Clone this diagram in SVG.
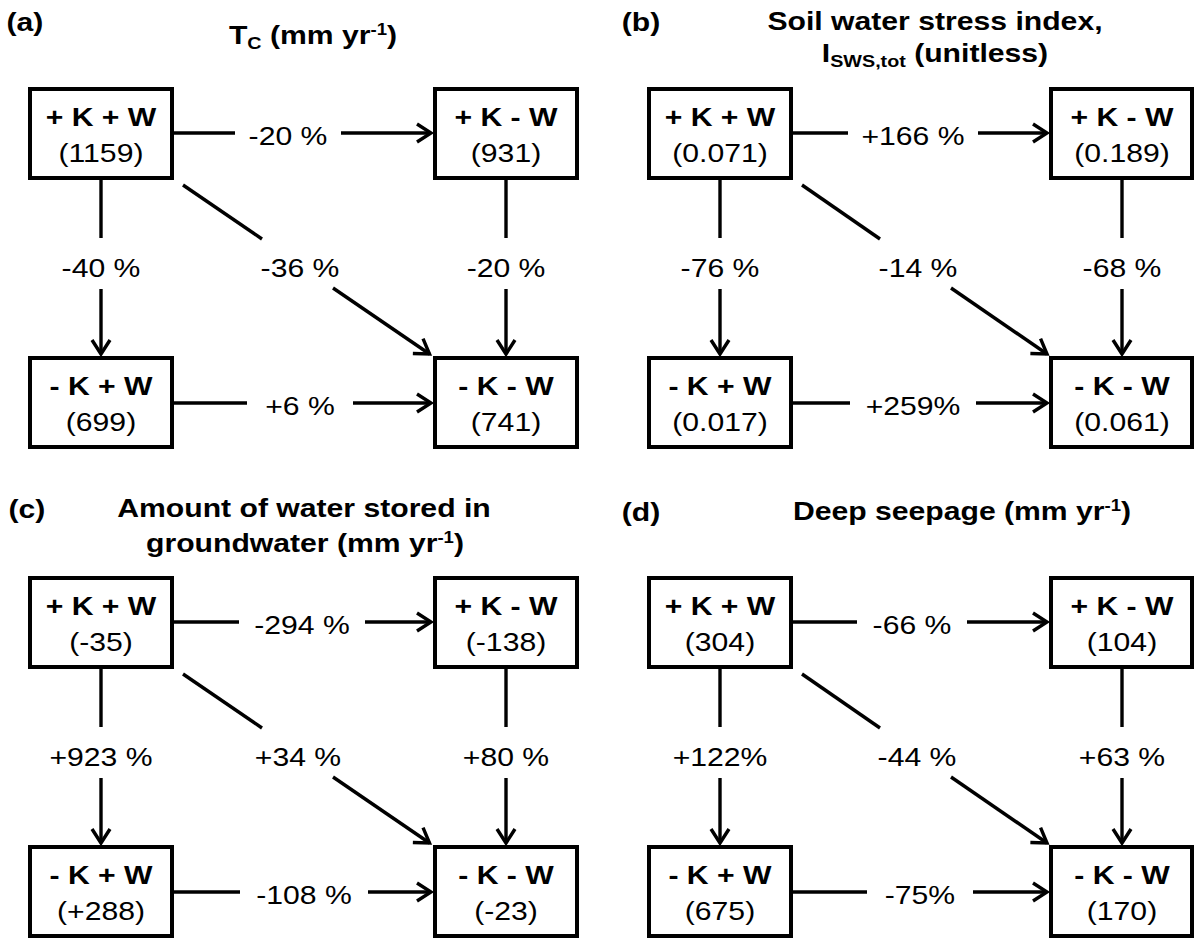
<svg xmlns="http://www.w3.org/2000/svg" width="1194" height="938" viewBox="0 0 1194 938">
  <defs>
    <style>
      text { font-family: "Liberation Sans", Arial, sans-serif; font-size: 26px; fill: #000; text-anchor: middle;
             transform-box: fill-box; transform-origin: center; transform: scaleX(1.16); }
      .b { font-weight: bold; }
      .box { fill: #fff; stroke: #000; stroke-width: 4; }
      .ln { fill: none; stroke: #000; stroke-width: 3.4; }
      .ar { fill: none; stroke: #000; stroke-width: 3.4; marker-end: url(#ah); }
    </style>
    <marker id="ah" markerUnits="userSpaceOnUse" markerWidth="26" markerHeight="26" viewBox="-20 -13 26 26" refX="0" refY="0" orient="auto">
      <path d="M-14,-9 L0,0 L-14,9" fill="none" stroke="#000" stroke-width="3.4"/>
    </marker>
  </defs>
  <rect width="1194" height="938" fill="#fff"/>

  <!-- panel headings -->
  <g id="titles">
    <text class="b" x="25" y="31">(a)</text>
    <text class="b" x="313" y="44">T<tspan font-size="17" dy="5">C</tspan><tspan dy="-5"> (mm yr</tspan><tspan font-size="16" dy="-9">-1</tspan><tspan dy="9">)</tspan></text>
    <text class="b" x="641" y="31">(b)</text>
    <text class="b" x="935" y="30">Soil water stress index,</text>
    <text class="b" x="935" y="62">I<tspan font-size="17" dy="5">SWS,tot</tspan><tspan dy="-5"> (unitless)</tspan></text>
    <text class="b" x="27" y="518">(c)</text>
    <text class="b" x="304" y="517">Amount of water stored in</text>
    <text class="b" x="305" y="552">groundwater (mm yr<tspan font-size="16" dy="-9">-1</tspan><tspan dy="9">)</tspan></text>
    <text class="b" x="641" y="521">(d)</text>
    <text class="b" x="962" y="520">Deep seepage (mm yr<tspan font-size="16" dy="-9">-1</tspan><tspan dy="9">)</tspan></text>
  </g>

  <!-- connectors: each split around its percentage label -->
  <g id="connectors">
    <!-- (a) -->
    <path class="ln" d="M172,133 H235"/><path class="ar" d="M341,133 H431"/>
    <path class="ln" d="M172,403 H247"/><path class="ar" d="M353,403 H431"/>
    <path class="ln" d="M101,178 V238"/><path class="ar" d="M101,289 V354"/>
    <path class="ln" d="M506,178 V238"/><path class="ar" d="M506,289 V354"/>
    <path class="ln" d="M183,185 L262,239"/><path class="ar" d="M333,288 L429.5,354"/>
    <!-- (b) -->
    <path class="ln" d="M791,133 H848"/><path class="ar" d="M978,133 H1047"/>
    <path class="ln" d="M791,403 H850"/><path class="ar" d="M976,403 H1047"/>
    <path class="ln" d="M720,178 V238"/><path class="ar" d="M720,289 V354"/>
    <path class="ln" d="M1122,178 V238"/><path class="ar" d="M1122,289 V354"/>
    <path class="ln" d="M802,185 L880,239"/><path class="ar" d="M951,288 L1047,354"/>
    <!-- (c) -->
    <path class="ln" d="M172,622 H239"/><path class="ar" d="M365,622 H431"/>
    <path class="ln" d="M172,892 H240"/><path class="ar" d="M368,892 H431"/>
    <path class="ln" d="M101,667 V727"/><path class="ar" d="M101,778 V843"/>
    <path class="ln" d="M506,667 V727"/><path class="ar" d="M506,778 V843"/>
    <path class="ln" d="M183,674 L262,728"/><path class="ar" d="M333,777 L429.5,843"/>
    <!-- (d) -->
    <path class="ln" d="M791,622 H857"/><path class="ar" d="M967,622 H1047"/>
    <path class="ln" d="M791,892 H867"/><path class="ar" d="M973,892 H1047"/>
    <path class="ln" d="M720,667 V727"/><path class="ar" d="M720,778 V843"/>
    <path class="ln" d="M1122,667 V727"/><path class="ar" d="M1122,778 V843"/>
    <path class="ln" d="M802,674 L880,728"/><path class="ar" d="M951,777 L1047,843"/>
  </g>

  <!-- percentage labels -->
  <g id="labels">
    <text x="288" y="145">-20 %</text>
    <text x="300" y="415">+6 %</text>
    <text x="101" y="277">-40 %</text>
    <text x="300" y="277">-36 %</text>
    <text x="506" y="277">-20 %</text>

    <text x="913" y="145">+166 %</text>
    <text x="913" y="415">+259%</text>
    <text x="720" y="277">-76 %</text>
    <text x="918" y="277">-14 %</text>
    <text x="1122" y="277">-68 %</text>

    <text x="302" y="634">-294 %</text>
    <text x="304" y="904">-108 %</text>
    <text x="101" y="766">+923 %</text>
    <text x="298" y="766">+34 %</text>
    <text x="506" y="766">+80 %</text>

    <text x="912" y="634">-66 %</text>
    <text x="920" y="904">-75%</text>
    <text x="720" y="766">+122%</text>
    <text x="917" y="766">-44 %</text>
    <text x="1122" y="766">+63 %</text>
  </g>

  <!-- (a) nodes -->
  <g id="a-pKpW"><rect class="box" x="30" y="89" width="142" height="89"/><text class="b" x="101" y="126">+ K + W</text><text x="101" y="162">(1159)</text></g>
  <g id="a-pKmW"><rect class="box" x="435" y="89" width="142" height="89"/><text class="b" x="506" y="126">+ K - W</text><text x="506" y="162">(931)</text></g>
  <g id="a-mKpW"><rect class="box" x="30" y="358" width="142" height="89"/><text class="b" x="101" y="395">- K + W</text><text x="101" y="431">(699)</text></g>
  <g id="a-mKmW"><rect class="box" x="435" y="358" width="142" height="89"/><text class="b" x="506" y="395">- K - W</text><text x="506" y="431">(741)</text></g>

  <!-- (b) nodes -->
  <g id="b-pKpW"><rect class="box" x="649" y="89" width="142" height="89"/><text class="b" x="720" y="126">+ K + W</text><text x="720" y="162">(0.071)</text></g>
  <g id="b-pKmW"><rect class="box" x="1051" y="89" width="141" height="89"/><text class="b" x="1122" y="126">+ K - W</text><text x="1122" y="162">(0.189)</text></g>
  <g id="b-mKpW"><rect class="box" x="649" y="358" width="142" height="89"/><text class="b" x="720" y="395">- K + W</text><text x="720" y="431">(0.017)</text></g>
  <g id="b-mKmW"><rect class="box" x="1051" y="358" width="141" height="89"/><text class="b" x="1122" y="395">- K - W</text><text x="1122" y="431">(0.061)</text></g>

  <!-- (c) nodes -->
  <g id="c-pKpW"><rect class="box" x="30" y="578" width="142" height="89"/><text class="b" x="101" y="615">+ K + W</text><text x="101" y="651">(-35)</text></g>
  <g id="c-pKmW"><rect class="box" x="435" y="578" width="142" height="89"/><text class="b" x="506" y="615">+ K - W</text><text x="506" y="651">(-138)</text></g>
  <g id="c-mKpW"><rect class="box" x="30" y="847" width="142" height="89"/><text class="b" x="101" y="884">- K + W</text><text x="101" y="920">(+288)</text></g>
  <g id="c-mKmW"><rect class="box" x="435" y="847" width="142" height="89"/><text class="b" x="506" y="884">- K - W</text><text x="506" y="920">(-23)</text></g>

  <!-- (d) nodes -->
  <g id="d-pKpW"><rect class="box" x="649" y="578" width="142" height="89"/><text class="b" x="720" y="615">+ K + W</text><text x="720" y="651">(304)</text></g>
  <g id="d-pKmW"><rect class="box" x="1051" y="578" width="141" height="89"/><text class="b" x="1122" y="615">+ K - W</text><text x="1122" y="651">(104)</text></g>
  <g id="d-mKpW"><rect class="box" x="649" y="847" width="142" height="89"/><text class="b" x="720" y="884">- K + W</text><text x="720" y="920">(675)</text></g>
  <g id="d-mKmW"><rect class="box" x="1051" y="847" width="141" height="89"/><text class="b" x="1122" y="884">- K - W</text><text x="1122" y="920">(170)</text></g>
</svg>
